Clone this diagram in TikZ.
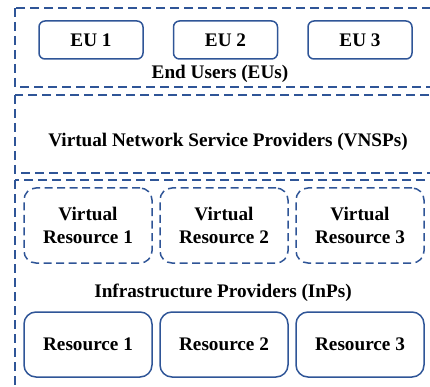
\documentclass[tikz,border=0pt]{standalone}
\usepackage{fontspec}
\setmainfont{Liberation Serif}
\usepackage{tikz}
\usetikzlibrary{positioning}
\definecolor{layerblue}{HTML}{2F5597}

\begin{document}
\begin{tikzpicture}[
  x=1pt, y=-1pt,
  every node/.style={font=\fontsize{19.2}{23.5}\selectfont\bfseries},
  layer/.style={draw=layerblue, line width=1.8pt, dash pattern=on 9pt off 5pt},
  eubox/.style={draw=layerblue, line width=1.5pt, rounded corners=6pt,
                minimum width=104pt, minimum height=38pt},
  vrbox/.style={draw=layerblue, line width=1.5pt, rounded corners=12pt,
                dash pattern=on 8pt off 4.5pt, align=center,
                minimum width=128pt, minimum height=75pt},
  resbox/.style={draw=layerblue, line width=1.5pt, rounded corners=12pt,
                 minimum width=128pt, minimum height=65pt}
]
\useasboundingbox (0,0) rectangle (430,387);
\clip (0,0) rectangle (430,387);

% layers
\draw[layer] (15,8)   rectangle (445,87);
\draw[layer] (15,95)  rectangle (445,173);
\draw[layer] (15,180) rectangle (445,410);

% end users
\node[eubox] (eu1) at (91,40) {EU 1};
\node[eubox, right=29pt of eu1] (eu2) {EU 2};
\node[eubox, right=29pt of eu2] (eu3) {EU 3};
\node (eulabel) at (220,74) {End Users (EUs)};

% service providers
\node (vnsplabel) at (228,142) {Virtual Network Service Providers (VNSPs)};

% infrastructure providers
\node[vrbox] (vr1) at (88,225.5) {Virtual\\Resource 1};
\node[vrbox, right=6.5pt of vr1] (vr2) {Virtual\\Resource 2};
\node[vrbox, right=6.5pt of vr2] (vr3) {Virtual\\Resource 3};
\node (inplabel) at (223,293) {Infrastructure Providers (InPs)};
\node[resbox] (res1) at (88,344.5) {Resource 1};
\node[resbox, right=6.5pt of res1] (res2) {Resource 2};
\node[resbox, right=6.5pt of res2] (res3) {Resource 3};

\end{tikzpicture}
\end{document}
